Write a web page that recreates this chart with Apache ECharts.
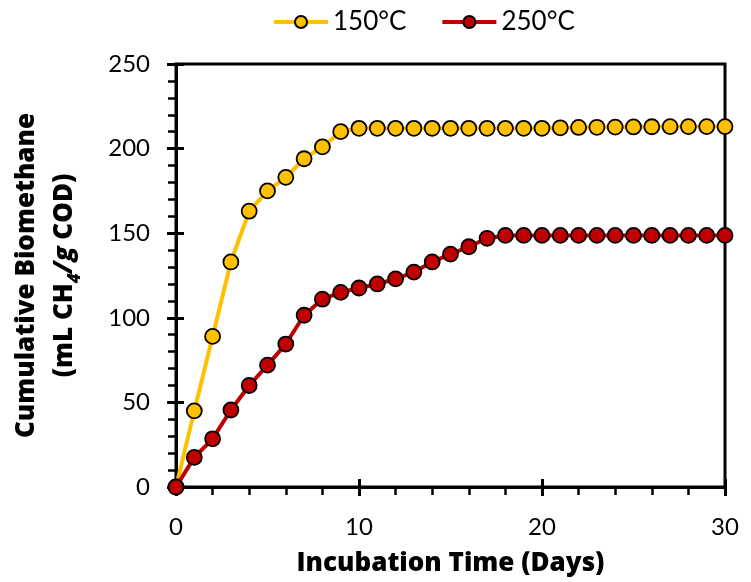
<!DOCTYPE html>
<html><head><meta charset="utf-8">
<script src="https://cdn.jsdelivr.net/npm/echarts@6/dist/echarts.min.js"></script>
<style>html,body{margin:0;padding:0;background:#fff}#c{width:751px;height:582px}</style>
</head><body><div id="c"></div>
<script>
const days = [0,1,2,3,4,5,6,7,8,9,10,11,12,13,14,15,16,17,18,19,20,21,22,23,24,25,26,27,28,29,30];
const s150 = [0,45,89,133,163,175,183,194,201,210,212,212,212,212,212,212,212,212,212,212,212,212.3,212.5,212.6,212.7,212.8,212.9,213,213,213,213];
const s250 = [0,17.5,28.5,45.5,60,72,84.5,101.5,111,115,117.6,120,123,127,133,137.6,142,147,148.7,148.7,148.7,148.7,148.7,148.7,148.7,148.7,148.7,148.7,148.7,148.7,148.7];
const seriesNames = ['150°C','250°C'];
const xTicks = [0,10,20,30];
const yTicks = [0,50,100,150,200,250];

const FONT = 'Lato';
const BFONT = 'Open Sans';
const chart = echarts.init(document.getElementById('c'));
const axLine = {show:true, lineStyle:{color:'#000', width:3}};
function pts(v){ return days.map((d,i)=>[d,v[i]]); }
chart.setOption({
  animation:false,
  textStyle:{fontFamily:FONT},
  legend:{top:4, left:267, itemWidth:54, itemHeight:15, itemGap:34,
    lineStyle:{width:4},
    textStyle:{fontSize:26, color:'#000', fontFamily:FONT},
    data:seriesNames},
  grid:{left:175, right:26, top:64, bottom:95, show:true, borderColor:'#000', borderWidth:3},
  xAxis:[{type:'value', min:xTicks[0], max:xTicks[xTicks.length-1], interval:10,
      axisLine:axLine, axisTick:{show:true, length:9, lineStyle:{width:3,color:'#000'}},
      minorTick:{show:true, splitNumber:5, length:8, lineStyle:{width:2.5,color:'#000'}},
      splitLine:{show:false},
      axisLabel:{fontSize:24, color:'#000', margin:28, fontFamily:FONT},
      name:'Incubation Time (Days)', nameLocation:'middle', nameGap:64,
      nameTextStyle:{fontSize:26, fontWeight:800, color:'#000', fontFamily:BFONT}},
    {type:'value', position:'bottom', min:0, max:30, interval:10,
      axisLine:{show:false}, axisTick:{show:true, inside:true, length:8, lineStyle:{width:3,color:'#000'}},
      axisLabel:{show:false}, splitLine:{show:false}}],
  yAxis:[{type:'value', min:yTicks[0], max:yTicks[yTicks.length-1], interval:50,
      axisLine:axLine, axisTick:{show:true, length:9, lineStyle:{width:3,color:'#000'}},
      minorTick:{show:true, splitNumber:5, length:8, lineStyle:{width:2.5,color:'#000'}},
      splitLine:{show:false},
      axisLabel:{fontSize:24, color:'#000', margin:26, fontFamily:FONT},
      name:'{a|Cumulative Biomethane}\n{a|(mL CH}{s|4}{b|/g}{a| COD)}', nameLocation:'middle', nameGap:92,
      nameTextStyle:{color:'#000', lineHeight:38,
        rich:{a:{fontSize:26, fontWeight:800, color:'#000', fontFamily:BFONT, lineHeight:38},
              b:{fontSize:26, fontWeight:800, fontStyle:'italic', color:'#000', fontFamily:BFONT, lineHeight:38},
              s:{fontSize:17, fontWeight:800, fontStyle:'italic', color:'#000', fontFamily:BFONT, verticalAlign:'bottom', padding:[9,0,0,0], lineHeight:38}}}},
    {type:'value', position:'left', min:0, max:250, interval:50,
      axisLine:{show:false}, axisTick:{show:true, inside:true, length:8, lineStyle:{width:3,color:'#000'}},
      axisLabel:{show:false}, splitLine:{show:false}}],
  series:[
    {name:seriesNames[0], type:'line', data:pts(s150), symbol:'circle', symbolSize:15,
      lineStyle:{color:'#FFC000', width:4}, itemStyle:{color:'#FFC000', borderColor:'#000', borderWidth:1.8}, z:3},
    {name:seriesNames[1], type:'line', data:pts(s250), symbol:'circle', symbolSize:15,
      lineStyle:{color:'#C00000', width:4}, itemStyle:{color:'#C00000', borderColor:'#000', borderWidth:1.8}, z:4}
  ]
});
</script></body></html>
